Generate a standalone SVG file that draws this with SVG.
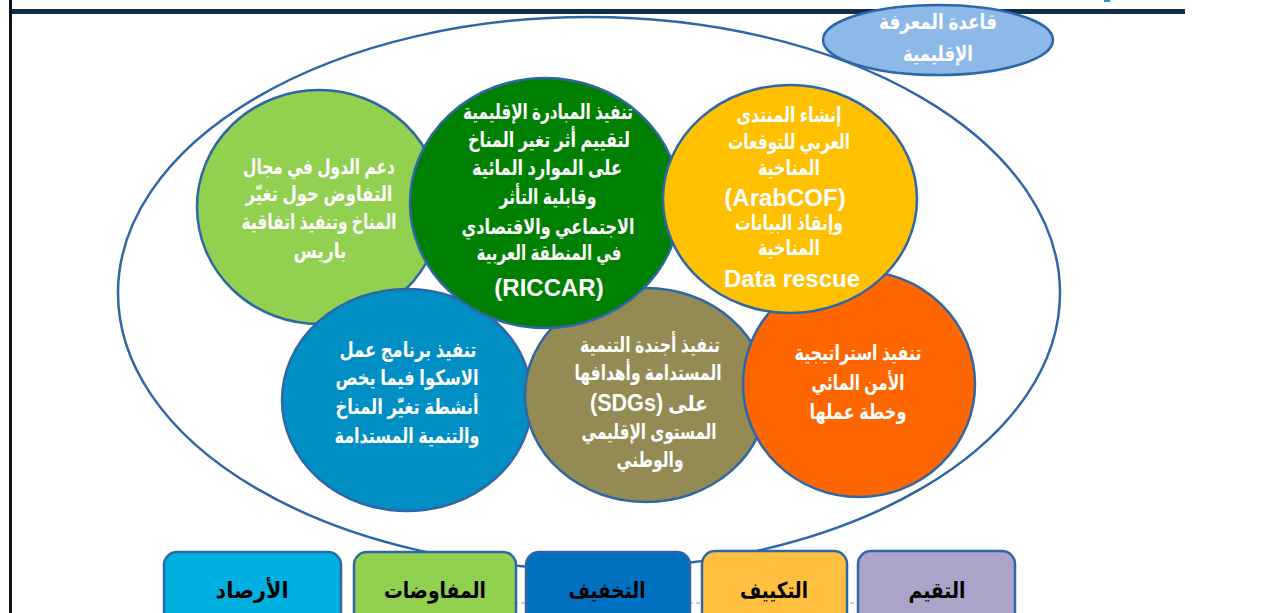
<svg xmlns="http://www.w3.org/2000/svg" width="1284" height="613" viewBox="0 0 1284 613">
<style>
.c{stroke:#2F67A6;stroke-width:2.5}
.t{font-family:"Liberation Sans","DejaVu Sans",sans-serif;font-weight:bold;fill:#fff;text-anchor:middle;font-size:21px}
.l{font-size:24px}
.b{font-family:"Liberation Sans","DejaVu Sans",sans-serif;font-weight:bold;fill:#000;text-anchor:middle;font-size:22px}
.box{stroke:#2F67A6;stroke-width:2.5}
</style>
<rect width="1284" height="613" fill="#fff"/>
<rect x="9" y="0" width="3" height="613" fill="#111"/>
<rect x="12" y="9" width="1173" height="5" fill="#0C2E48"/>
<rect x="1104" y="0" width="6" height="2" fill="#2A8FD8"/>
<line x1="500" y1="603" x2="860" y2="603" stroke="#999" stroke-width="1" stroke-dasharray="4 3"/>
<g id="connectors">
<ellipse cx="589" cy="293" rx="471" ry="276" fill="none" class="c"/>
</g>
<g id="knowledge">
<ellipse cx="938" cy="40" rx="115" ry="35" fill="#8DB9E9" class="c"/>
<text class="t" direction="rtl" x="938" y="29" textLength="118" lengthAdjust="spacingAndGlyphs">قاعدة المعرفة</text>
<text class="t" direction="rtl" x="938" y="61" textLength="70" lengthAdjust="spacingAndGlyphs">الإقليمية</text>
</g>
<g id="n-negotiation">
<ellipse cx="319" cy="207" rx="122" ry="117" fill="#92D050" class="c"/>
<text class="t" direction="rtl" x="319" y="174" textLength="152" lengthAdjust="spacingAndGlyphs">دعم الدول في مجال</text>
<text class="t" direction="rtl" x="319" y="201" textLength="147" lengthAdjust="spacingAndGlyphs">التفاوض حول تغيّر</text>
<text class="t" direction="rtl" x="319" y="229" textLength="155" lengthAdjust="spacingAndGlyphs">المناخ وتنفيذ اتفاقية</text>
<text class="t" direction="rtl" x="320" y="258" textLength="53" lengthAdjust="spacingAndGlyphs">باريس</text>
</g>
<g id="n-escwa">
<ellipse cx="407" cy="400" rx="125" ry="111" fill="#008FC4" class="c"/>
<text class="t" direction="rtl" x="408" y="357" textLength="137" lengthAdjust="spacingAndGlyphs">تنفيذ برنامج عمل</text>
<text class="t" direction="rtl" x="407" y="385" textLength="143" lengthAdjust="spacingAndGlyphs">الاسكوا فيما يخص</text>
<text class="t" direction="rtl" x="407" y="414" textLength="143" lengthAdjust="spacingAndGlyphs">أنشطة تغيّر المناخ</text>
<text class="t" direction="rtl" x="407" y="443" textLength="145" lengthAdjust="spacingAndGlyphs">والتنمية المستدامة</text>
</g>
<g id="n-sdgs">
<ellipse cx="646" cy="395" rx="121" ry="107" fill="#948A54" class="c"/>
<text class="t" direction="rtl" x="650" y="352" textLength="140" lengthAdjust="spacingAndGlyphs">تنفيذ أجندة التنمية</text>
<text class="t" direction="rtl" x="648" y="380" textLength="147" lengthAdjust="spacingAndGlyphs">المستدامة وأهدافها</text>
<text class="t" direction="rtl" x="649" y="411" textLength="118" lengthAdjust="spacingAndGlyphs">على <tspan class="l">(SDGs)</tspan></text>
<text class="t" direction="rtl" x="649" y="439" textLength="135" lengthAdjust="spacingAndGlyphs">المستوى الإقليمي</text>
<text class="t" direction="rtl" x="650" y="467" textLength="67" lengthAdjust="spacingAndGlyphs">والوطني</text>
</g>
<g id="n-water">
<ellipse cx="859" cy="384" rx="116" ry="113" fill="#FF6600" class="c"/>
<text class="t" direction="rtl" x="858" y="360" textLength="127" lengthAdjust="spacingAndGlyphs">تنفيذ استراتيجية</text>
<text class="t" direction="rtl" x="858" y="390" textLength="93" lengthAdjust="spacingAndGlyphs">الأمن المائي</text>
<text class="t" direction="rtl" x="858" y="419" textLength="97" lengthAdjust="spacingAndGlyphs">وخطة عملها</text>
</g>
<g id="n-riccar">
<ellipse cx="545" cy="203" rx="135" ry="125" fill="#008000" class="c"/>
<text class="t" direction="rtl" x="548" y="119" textLength="170" lengthAdjust="spacingAndGlyphs">تنفيذ المبادرة الإقليمية</text>
<text class="t" direction="rtl" x="549" y="147" textLength="162" lengthAdjust="spacingAndGlyphs">لتقييم أثر تغير المناخ</text>
<text class="t" direction="rtl" x="547" y="175" textLength="150" lengthAdjust="spacingAndGlyphs">على الموارد المائية</text>
<text class="t" direction="rtl" x="548" y="204" textLength="97" lengthAdjust="spacingAndGlyphs">وقابلية التأثر</text>
<text class="t" direction="rtl" x="548" y="234" textLength="173" lengthAdjust="spacingAndGlyphs">الاجتماعي والاقتصادي</text>
<text class="t" direction="rtl" x="549" y="260" textLength="145" lengthAdjust="spacingAndGlyphs">في المنطقة العربية</text>
<text class="t l" x="549" y="296">(RICCAR)</text>
</g>
<g id="n-arabcof">
<ellipse cx="790" cy="199" rx="127" ry="114" fill="#FFC000" class="c"/>
<text class="t" direction="rtl" x="789" y="122" textLength="105" lengthAdjust="spacingAndGlyphs">إنشاء المنتدى</text>
<text class="t" direction="rtl" x="789" y="149" textLength="122" lengthAdjust="spacingAndGlyphs">العربي للتوقعات</text>
<text class="t" direction="rtl" x="789" y="175" textLength="62" lengthAdjust="spacingAndGlyphs">المناخية</text>
<text class="t l" x="785" y="206">(ArabCOF)</text>
<text class="t" direction="rtl" x="789" y="230" textLength="108" lengthAdjust="spacingAndGlyphs">وإنقاذ البيانات</text>
<text class="t" direction="rtl" x="789" y="255" textLength="62" lengthAdjust="spacingAndGlyphs">المناخية</text>
<text class="t l" x="792" y="287">Data rescue</text>
</g>
<g id="b-monitoring">
<rect x="164" y="552" width="177" height="75" rx="13" fill="#00B0E0" class="box"/>
<text class="b" direction="rtl" x="252" y="598" textLength="73" lengthAdjust="spacingAndGlyphs">الأرصاد</text>
</g>
<g id="b-negotiations">
<rect x="354" y="552" width="162" height="75" rx="13" fill="#92D050" class="box"/>
<text class="b" direction="rtl" x="435" y="598" textLength="102" lengthAdjust="spacingAndGlyphs">المفاوضات</text>
</g>
<g id="b-mitigation">
<rect x="526" y="552" width="164" height="75" rx="13" fill="#0070C0" class="box"/>
<text class="b" direction="rtl" x="607" y="598" textLength="77" lengthAdjust="spacingAndGlyphs">التخفيف</text>
</g>
<g id="b-adaptation">
<rect x="702" y="551" width="145" height="76" rx="13" fill="#FFC03F" class="box"/>
<text class="b" direction="rtl" x="774" y="598" textLength="68" lengthAdjust="spacingAndGlyphs">التكييف</text>
</g>
<g id="b-assessment">
<rect x="858" y="551" width="157" height="76" rx="13" fill="#ACA4C8" class="box"/>
<text class="b" direction="rtl" x="937" y="598" textLength="57" lengthAdjust="spacingAndGlyphs">التقيم</text>
</g>
</svg>
